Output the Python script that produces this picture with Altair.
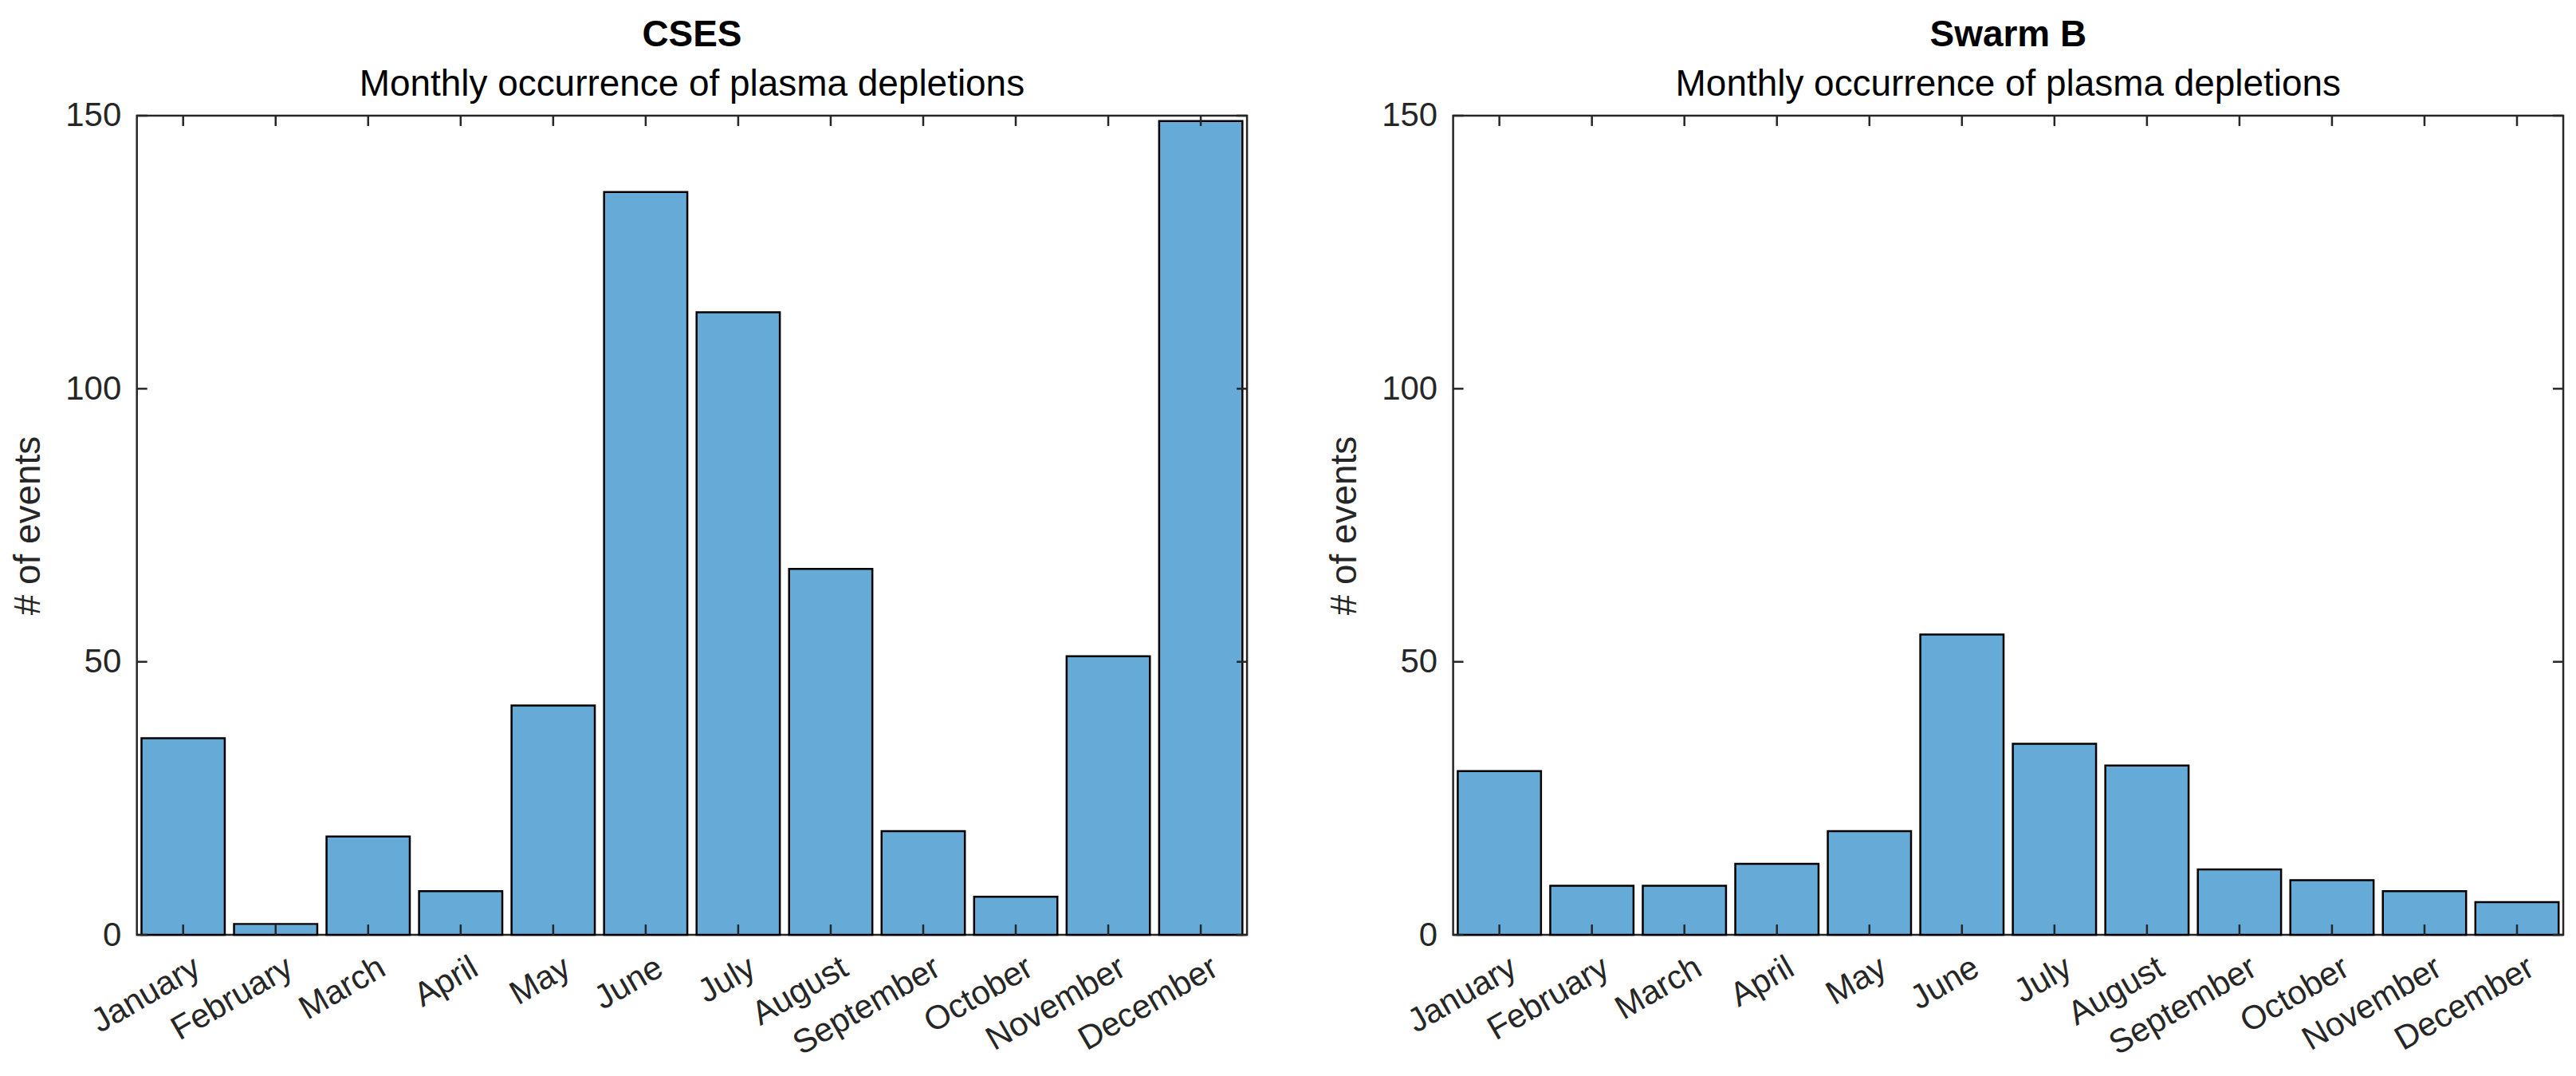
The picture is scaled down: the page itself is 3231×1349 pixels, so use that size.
import altair as alt
import pandas as pd

months = ["January", "February", "March", "April", "May", "June", "July",
          "August", "September", "October", "November", "December"]
cses_counts = [36, 2, 18, 8, 42, 136, 114, 67, 19, 7, 51, 149]
swarm_counts = [30, 9, 9, 13, 19, 55, 35, 31, 12, 10, 8, 6]
y_ticks = [0, 50, 100, 150]
panel_titles = ["CSES", "Swarm B"]
subtitle = "Monthly occurrence of plasma depletions"

W, H = 1395, 1029
FONT = "Liberation Sans"
DARK = "#262626"
BAR = "#66AAD7"
TICK_LEN_DATA = 150 * 13 / H


def panel(values, name):
    df = pd.DataFrame({"month": months, "count": values})
    tick_df = pd.DataFrame({"count": y_ticks})

    x_enc = alt.X(
        "month:N", sort=months,
        scale=alt.Scale(paddingInner=0.1, paddingOuter=0.05),
        axis=alt.Axis(title=None, labelAngle=-30, labelAlign="right",
                      labelBaseline="top", labelFontSize=42, labelFont=FONT,
                      labelColor=DARK, labelPadding=20, labelOffset=8,
                      labelLimit=0, labelOverlap=False,
                      ticks=False, domain=False, grid=False),
    )
    y_enc = alt.Y(
        "count:Q",
        scale=alt.Scale(domain=[0, 150], nice=False),
        axis=alt.Axis(values=y_ticks, title="# of events", titleFontSize=46,
                      titleFont=FONT, titleFontWeight="normal", titleColor=DARK,
                      labelFontSize=42, labelFont=FONT, labelColor=DARK,
                      labelPadding=20, titlePadding=22, ticks=False,
                      domain=False, grid=False),
    )

    bars = alt.Chart(df).mark_bar(color=BAR, stroke="black", strokeWidth=2.5).encode(
        x=x_enc, y=y_enc)

    bottom_ticks = alt.Chart(df).mark_rule(color=DARK, strokeWidth=2.5).encode(
        x=alt.X("month:N", sort=months),
        y=alt.datum(0), y2=alt.datum(TICK_LEN_DATA))
    top_ticks = alt.Chart(df).mark_rule(color=DARK, strokeWidth=2.5).encode(
        x=alt.X("month:N", sort=months),
        y=alt.datum(150), y2=alt.datum(150 - TICK_LEN_DATA))
    left_ticks = alt.Chart(tick_df).mark_rule(color=DARK, strokeWidth=2.5).encode(
        y=alt.Y("count:Q"), x=alt.value(0), x2=alt.value(13))
    right_ticks = alt.Chart(tick_df).mark_rule(color=DARK, strokeWidth=2.5).encode(
        y=alt.Y("count:Q"), x=alt.value(W - 13), x2=alt.value(W))

    return alt.layer(bars, bottom_ticks, top_ticks, left_ticks, right_ticks).properties(
        width=W, height=H,
        title=alt.TitleParams(
            text=name, subtitle=subtitle, anchor="middle",
            font=FONT, fontSize=46, fontWeight="bold", color="black",
            subtitleFont=FONT, subtitleFontSize=46, subtitleColor="black",
            subtitlePadding=16, offset=-6),
    )


chart = alt.hconcat(
    panel(cses_counts, panel_titles[0]),
    panel(swarm_counts, panel_titles[1]),
    spacing=95,
).configure_view(
    stroke=DARK, strokeWidth=2.5
).properties(
    padding={"left": 3, "top": 10, "right": 5, "bottom": 5},
    background="white",
)

chart.save("out.html", embed_options={"renderer": "svg", "actions": False})
